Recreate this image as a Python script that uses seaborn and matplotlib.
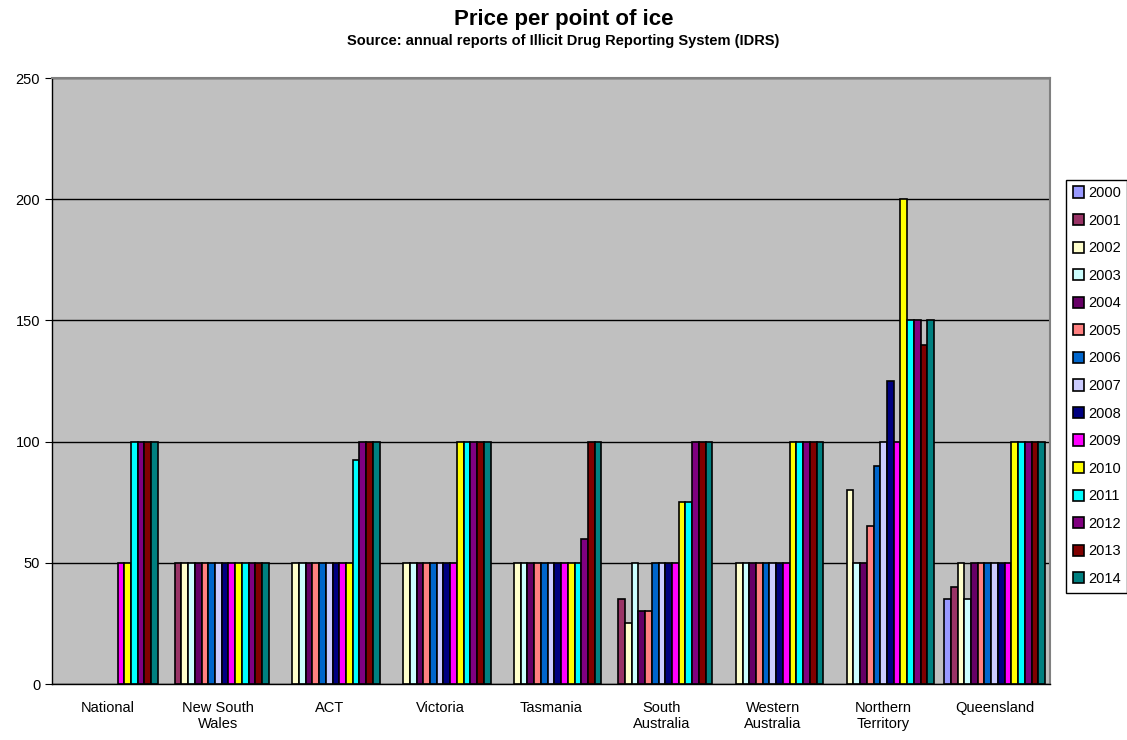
import numpy as np
import pandas as pd
import matplotlib
matplotlib.use("Agg")
import matplotlib.pyplot as plt
import seaborn as sns

regions = ["National", "New South\nWales", "ACT", "Victoria", "Tasmania",
           "South\nAustralia", "Western\nAustralia", "Northern\nTerritory", "Queensland"]
years = [str(y) for y in range(2000, 2015)]
year_colors = ["#9999FF", "#993366", "#FFFFCC", "#CCFFFF", "#660066", "#FF8080",
               "#0066CC", "#CCCCFF", "#000080", "#FF00FF", "#FFFF00", "#00FFFF",
               "#800080", "#800000", "#008080"]

nan = np.nan
# price per point, one list per region, 2000..2014 (nan = no report)
national = [nan, nan, nan, nan, nan, nan, nan, nan, nan, 50, 50, 100, 100, 100, 100]
nsw = [nan, 50, 50, 50, 50, 50, 50, 50, 50, 50, 50, 50, 50, 50, 50]
act = [nan, nan, 50, 50, 50, 50, 50, 50, 50, 50, 50, 92.5, 100, 100, 100]
victoria = [nan, nan, 50, 50, 50, 50, 50, 50, 50, 50, 100, 100, 100, 100, 100]
tasmania = [nan, nan, 50, 50, 50, 50, 50, 50, 50, 50, 50, 50, 60, 100, 100]
south_aus = [nan, 35, 25, 50, 30, 30, 50, 50, 50, 50, 75, 75, 100, 100, 100]
western_aus = [nan, nan, 50, 50, 50, 50, 50, 50, 50, 50, 100, 100, 100, 100, 100]
northern_terr = [nan, nan, 80, 50, 50, 65, 90, 100, 125, 100, 200, 150, 150, 140, 150]
queensland = [35, 40, 50, 35, 50, 50, 50, 50, 50, 50, 100, 100, 100, 100, 100]

series = [national, nsw, act, victoria, tasmania, south_aus, western_aus,
          northern_terr, queensland]

rows = []
for region, vals in zip(regions, series):
    for year, v in zip(years, vals):
        if not np.isnan(v):
            rows.append({"region": region, "year": year, "price": v})
df = pd.DataFrame(rows)

sns.set_style("white")
plt.rcParams["font.family"] = ["Liberation Sans", "DejaVu Sans"]
plt.rcParams["text.color"] = "black"
plt.rcParams["xtick.color"] = "black"
plt.rcParams["ytick.color"] = "black"

fig = plt.figure(figsize=(11.27, 7.4), dpi=100)
ax = fig.add_axes([52 / 1127, 1 - 684 / 740, (1050 - 52) / 1127, (684 - 78) / 740])

sns.barplot(data=df, x="region", y="price", hue="year", order=regions,
            hue_order=years, palette=year_colors, width=0.91,
            edgecolor="black", linewidth=1.2, saturation=1, ax=ax)

ax.set_facecolor("#C0C0C0")
ax.set_ylim(0, 250)
ax.set_xlim(-0.5, len(regions) - 0.5)
ax.set_yticks(range(0, 251, 50))
ax.yaxis.grid(True, color="black", linewidth=1)
ax.set_axisbelow(True)
ax.set_xlabel("")
ax.set_ylabel("")

for side in ["top", "right"]:
    ax.spines[side].set_color("#808080")
    ax.spines[side].set_linewidth(1.5)
for side in ["left", "bottom"]:
    ax.spines[side].set_color("black")
    ax.spines[side].set_linewidth(1)

ax.tick_params(axis="x", which="major", length=0, labelsize=10.5, pad=12,
               labelcolor="black")
ax.set_xticks(np.arange(-0.5, len(regions), 1), minor=True)
ax.tick_params(axis="x", which="minor", length=5, direction="out", color="black")
ax.tick_params(axis="y", length=5, direction="out", color="black", labelsize=10.5,
               labelcolor="black")
ax.tick_params(left=True, bottom=True)

handles, labels = ax.get_legend_handles_labels()
leg = ax.legend(handles, labels, loc="center left",
                bbox_to_anchor=(1066 / 1127, 1 - 386 / 740),
                bbox_transform=fig.transFigure, frameon=True, fancybox=False,
                edgecolor="black", framealpha=1, fontsize=10.5, handlelength=0.8,
                handleheight=0.8, handletextpad=0.25, labelspacing=0.93,
                borderpad=0.45, borderaxespad=0)
for t in leg.get_texts():
    t.set_color("black")

fig.text(0.5, 1 - 19 / 740, "Price per point of ice", ha="center", va="center",
         fontsize=16, fontweight="bold", color="black")
fig.text(0.5, 1 - 41 / 740, "Source: annual reports of Illicit Drug Reporting System (IDRS)",
         ha="center", va="center", fontsize=10.5, fontweight="bold", color="black")

fig.savefig("out.png", dpi=100)
